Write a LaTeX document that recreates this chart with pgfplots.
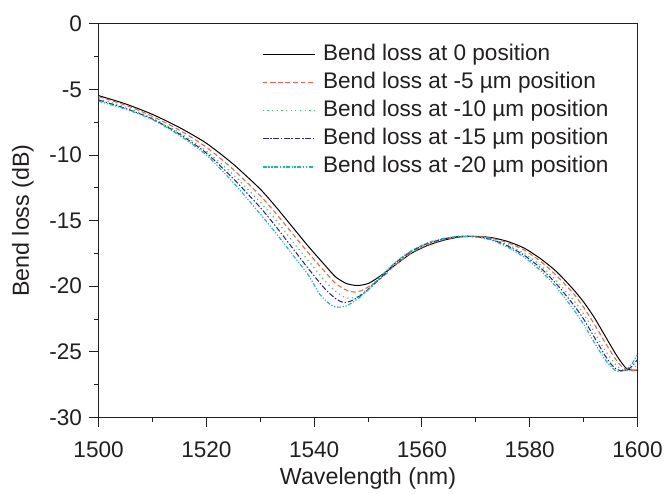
\documentclass[border=0pt]{standalone}
\usepackage{pgfplots}
\pgfplotsset{compat=1.18}
\usepackage{fontspec}
\setmainfont{Liberation Sans}
\definecolor{txt}{RGB}{35,31,32}
\definecolor{cred}{RGB}{245,95,60}
\definecolor{cgreen}{RGB}{60,200,100}
\definecolor{cblue}{RGB}{40,40,150}
\definecolor{ccyan}{RGB}{20,185,185}
\begin{document}
\begin{tikzpicture}
\begin{axis}[
  scale only axis,
  width=405.75pt, height=296.25pt,
  xmin=1500, xmax=1600, ymin=-30, ymax=0,
  xtick={1500,1520,...,1600}, ytick={-30,-25,...,0},
  minor x tick num=1, minor y tick num=1,
  tick align=outside, tick pos=left,
  major tick length=7pt, minor tick length=3.5pt,
  axis line style={line width=0.7pt, color=txt},
  every tick/.style={line width=0.7pt, color=txt},
  /pgf/number format/assume math mode=true,
  /pgf/number format/1000 sep={},
  tick label style={font=\fontsize{17}{20}\selectfont, text=txt},
  xticklabel style={yshift=-8pt},
  yticklabel style={xshift=-2pt},
  label style={font=\fontsize{17.5}{21}\selectfont, text=txt},
  xlabel={Wavelength (nm)}, ylabel={Bend loss (dB)},
  xlabel style={at={(axis description cs:0.5,-0.155)}, anchor=center},
  ylabel style={at={(axis description cs:-0.1405,0.5)}, anchor=center},
  legend cell align=left,
  legend image code/.code={\draw[#1] plot coordinates {(0pt,0pt) (39pt,0pt)};},
  legend style={at={(rel axis cs:0.303,0.957)}, anchor=north west, draw=none, fill=none,
    inner sep=0pt, row sep=1.2pt, column sep=4pt,
    font=\fontsize{17}{20}\selectfont, text=txt,
    nodes={inner sep=2pt, text height=12.5pt, text depth=3.5pt}},
  every axis plot/.append style={smooth, tension=0.4},
]
\addplot[black, line width=0.75pt] coordinates {
(1500,-5.47) (1505,-6.1) (1510,-6.9) (1515,-7.9) (1520,-9.1) (1525,-10.7) (1530,-12.6)
(1533,-14.0) (1536,-15.5) (1539,-17.0) (1542,-18.4) (1544,-19.3) (1546,-19.8) (1548,-19.95)
(1550,-19.8) (1552,-19.3) (1555,-18.4) (1558,-17.5) (1561,-16.9) (1564,-16.5) (1567,-16.25)
(1570,-16.2) (1573,-16.3) (1576,-16.6) (1579,-17.1) (1582,-17.9) (1585,-18.9) (1588,-20.2)
(1590,-21.2) (1592,-22.4) (1594,-23.8) (1596,-25.2) (1597,-25.8) (1598,-26.3) (1599,-26.4) (1600,-26.4)};
\addlegendentry{Bend loss at 0 position}
\addplot[cred, line width=0.8pt, dash pattern=on 3.5pt off 2.2pt] coordinates {
(1500,-5.55) (1505,-6.2) (1510,-7.05) (1515,-8.1) (1520,-9.4) (1525,-11.1) (1530,-13.1)
(1533,-14.5) (1536,-16.0) (1539,-17.5) (1542,-18.9) (1544,-19.8) (1546,-20.3) (1547.5,-20.45)
(1549,-20.3) (1551,-19.8) (1553,-19.2) (1555,-18.4) (1558,-17.45) (1561,-16.85) (1564,-16.45)
(1567,-16.22) (1570,-16.2) (1573,-16.35) (1576,-16.7) (1579,-17.25) (1582,-18.1) (1585,-19.2)
(1588,-20.5) (1590,-21.6) (1592,-22.9) (1594,-24.3) (1596,-25.6) (1597,-26.1) (1598,-26.4)
(1599,-26.45) (1600,-26.4)};
\addlegendentry{Bend loss at -5 µm position}
\addplot[cgreen, line width=0.9pt, dash pattern=on 0.9pt off 2.6pt] coordinates {
(1500,-5.7) (1505,-6.35) (1510,-7.2) (1515,-8.3) (1520,-9.7) (1525,-11.5) (1530,-13.6)
(1533,-15.0) (1536,-16.6) (1539,-18.1) (1542,-19.6) (1544,-20.4) (1546,-20.9) (1548,-20.8)
(1550,-20.2) (1552,-19.4) (1555,-18.3) (1558,-17.4) (1561,-16.8) (1564,-16.4) (1567,-16.2)
(1570,-16.22) (1573,-16.4) (1576,-16.85) (1579,-17.5) (1582,-18.4) (1585,-19.6) (1588,-21.0)
(1590,-22.1) (1592,-23.5) (1594,-24.9) (1596,-26.0) (1597,-26.35) (1598,-26.45) (1599,-26.3) (1600,-26.0)};
\addlegendentry{Bend loss at -10 µm position}
\addplot[cblue, line width=0.8pt, dash pattern=on 4pt off 1.5pt on 1pt off 1.5pt] coordinates {
(1500,-5.8) (1505,-6.45) (1510,-7.25) (1515,-8.4) (1520,-9.85) (1525,-11.8) (1530,-14.0)
(1533,-15.5) (1536,-17.1) (1539,-18.7) (1542,-20.2) (1544,-20.95) (1545.5,-21.25) (1547,-21.1)
(1549,-20.6) (1551,-19.9) (1553,-19.1) (1555,-18.25) (1558,-17.35) (1561,-16.75) (1564,-16.4)
(1567,-16.2) (1570,-16.23) (1573,-16.45) (1576,-16.95) (1579,-17.65) (1582,-18.6) (1585,-19.85)
(1588,-21.35) (1590,-22.5) (1592,-23.9) (1594,-25.3) (1595,-25.9) (1596,-26.3) (1597,-26.45)
(1598,-26.4) (1599,-26.1) (1600,-25.6)};
\addlegendentry{Bend loss at -15 µm position}
\addplot[ccyan, line width=0.85pt, dash pattern=on 3pt off 1.3pt on 0.9pt off 1.3pt on 0.9pt off 1.3pt] coordinates {
(1500,-5.9) (1505,-6.5) (1510,-7.3) (1515,-8.5) (1520,-10.0) (1525,-12.1) (1530,-14.5)
(1533,-16.0) (1536,-17.6) (1539,-19.2) (1541,-20.6) (1543,-21.4) (1544.5,-21.6) (1546,-21.5)
(1548,-21.0) (1550,-20.3) (1552,-19.4) (1555,-18.2) (1558,-17.3) (1561,-16.7) (1564,-16.35)
(1567,-16.2) (1570,-16.25) (1573,-16.5) (1576,-17.05) (1579,-17.8) (1582,-18.8) (1585,-20.1)
(1588,-21.7) (1590,-22.9) (1592,-24.3) (1594,-25.6) (1595,-26.1) (1596,-26.45) (1597,-26.5)
(1598,-26.3) (1599,-25.9) (1600,-25.2)};
\addlegendentry{Bend loss at -20 µm position}
\end{axis}
\path ([xshift=-74.25pt,yshift=-53.25pt]current axis.south west) rectangle ([xshift=20.25pt,yshift=18pt]current axis.north east);
\end{tikzpicture}
\end{document}
